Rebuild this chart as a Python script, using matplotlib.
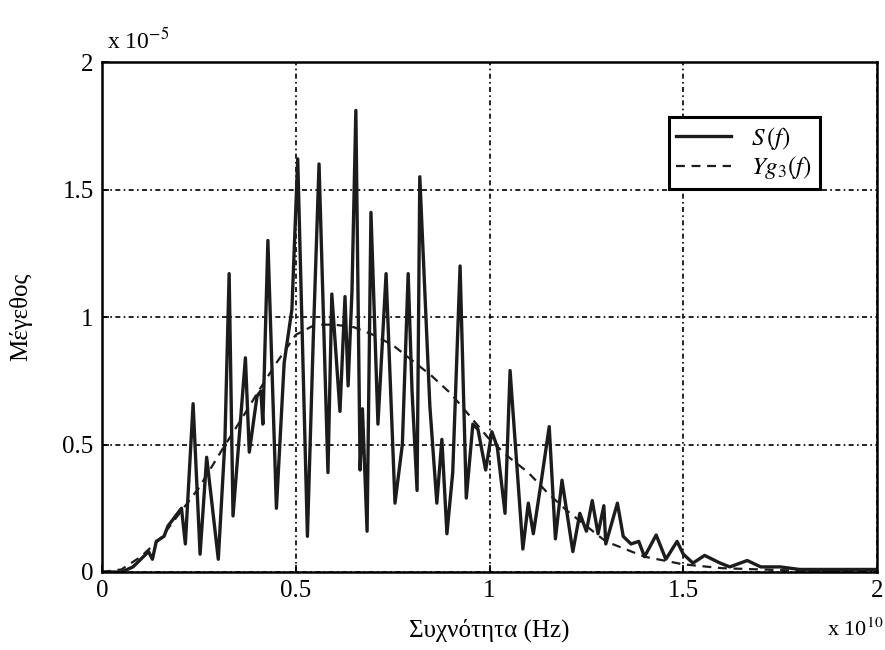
import matplotlib
matplotlib.use('Agg')
import matplotlib.pyplot as plt
import numpy as np

''' spectrum S(f) vs fitted envelope Yg3(f)
frequency in units of 1e10 Hz, magnitude in units of 1e-5
'''

freq_s = [0.0, 0.05, 0.08, 0.10, 0.12, 0.13, 0.14, 0.16, 0.17, 0.19, 0.205,
	0.215, 0.235, 0.253, 0.27, 0.30, 0.317, 0.328, 0.338, 0.37, 0.38, 0.40,
	0.41, 0.415, 0.428, 0.45, 0.47, 0.49, 0.505, 0.53, 0.545, 0.56, 0.583,
	0.593, 0.614, 0.627, 0.635, 0.645, 0.655, 0.666, 0.672, 0.684, 0.694,
	0.712, 0.733, 0.756, 0.775, 0.79, 0.80, 0.813, 0.82, 0.846, 0.864, 0.877,
	0.89, 0.905, 0.924, 0.94, 0.957, 0.97, 0.99, 1.006, 1.02, 1.04, 1.053,
	1.06, 1.086, 1.10, 1.113, 1.13, 1.154, 1.17, 1.187, 1.215, 1.233, 1.25,
	1.265, 1.28, 1.295, 1.30, 1.33, 1.345, 1.365, 1.385, 1.40, 1.43, 1.455,
	1.484, 1.50, 1.525, 1.555, 1.595, 1.62, 1.665, 1.70, 1.75, 1.80, 1.90, 2.0]
mag_s = [0.0, 0.0, 0.02, 0.05, 0.08, 0.05, 0.12, 0.14, 0.18, 0.22, 0.25,
	0.11, 0.66, 0.07, 0.45, 0.05, 0.51, 1.17, 0.22, 0.84, 0.47, 0.69,
	0.71, 0.58, 1.30, 0.25, 0.82, 1.03, 1.62, 0.14, 0.91, 1.60, 0.39,
	1.09, 0.63, 1.08, 0.73, 1.10, 1.81, 0.40, 0.64, 0.16, 1.41,
	0.58, 1.17, 0.27, 0.50, 1.17, 0.71, 0.32, 1.55, 0.65, 0.27, 0.52,
	0.15, 0.39, 1.20, 0.29, 0.58, 0.56, 0.40, 0.55, 0.49, 0.23, 0.79,
	0.64, 0.09, 0.27, 0.15, 0.32, 0.57, 0.13, 0.36, 0.08, 0.23, 0.16,
	0.28, 0.15, 0.26, 0.11, 0.27, 0.14, 0.11, 0.12, 0.06, 0.145, 0.05,
	0.12, 0.07, 0.035, 0.065, 0.035, 0.02, 0.045, 0.02, 0.02, 0.01, 0.01, 0.01]

# Yg3(f): smooth envelope
freq_g = [0.0, 0.05, 0.10, 0.15, 0.20, 0.25, 0.31, 0.36, 0.40, 0.45, 0.50,
	0.55, 0.60, 0.65, 0.70, 0.75, 0.80, 0.85, 0.90, 0.95, 1.00, 1.05, 1.10,
	1.15, 1.20, 1.25, 1.30, 1.40, 1.50, 1.60, 1.80, 2.0]
mag_g = [0.0, 0.01, 0.06, 0.13, 0.23, 0.33, 0.48, 0.60, 0.70, 0.82, 0.93,
	0.97, 0.97, 0.96, 0.93, 0.89, 0.83, 0.77, 0.70, 0.61, 0.52, 0.45, 0.39,
	0.31, 0.24, 0.18, 0.12, 0.06, 0.03, 0.015, 0.005, 0.0]

xticks = [0, 0.5, 1, 1.5, 2]
xticklabels = ['0', '0.5', '1', '1.5', '2']
yticks = [0, 0.5, 1, 1.5, 2]
yticklabels = ['0', '0.5', '1', '1.5', '2']


def main():
	plt.rcParams['font.family'] = ['Liberation Serif', 'DejaVu Serif']
	plt.rcParams['mathtext.fontset'] = 'stix'

	fig = plt.figure(figsize=(8.85, 6.5), dpi=100)
	ax = fig.add_axes([0.1153, 0.12, 0.8757, 0.7846])

	ax.plot(freq_s, mag_s, color='#1c1c1c', lw=2.4, label=r'$S\,(f)$')
	ax.plot(freq_g, mag_g, color='#1c1c1c', lw=1.6, dashes=(4, 3), label=r'$Yg_3(f)$')

	ax.set_xlim(0, 2)
	ax.set_ylim(0, 2)
	ax.set_xticks(xticks)
	ax.set_xticklabels(xticklabels)
	ax.set_yticks(yticks)
	ax.set_yticklabels(yticklabels)
	ax.tick_params(direction='in', length=5, width=1.2, labelsize=18, pad=6)
	for s in ax.spines.values():
		s.set_linewidth(1.8)
	ax.grid(True, color='black', lw=1.2, linestyle=(0, (3, 2, 1, 2)))

	ax.set_xlabel('Συχνότητα (Hz)', fontsize=18, labelpad=12)
	ax.set_ylabel('Μέγεθος', fontsize=18, labelpad=22)

	fig.text(0.121, 0.925, r'x 10$^{-5}$', fontsize=17)
	fig.text(0.935, 0.022, r'x 10$^{10}$', fontsize=16)

	leg = ax.legend(loc='upper right', bbox_to_anchor=(0.942, 0.916), fontsize=18,
		fancybox=False, edgecolor='black', framealpha=1, handlelength=2.2,
		borderpad=0.3, labelspacing=0.1)
	leg.get_frame().set_linewidth(2.2)

	plt.savefig('out.png', dpi=100)


if __name__ == "__main__":
	main()
